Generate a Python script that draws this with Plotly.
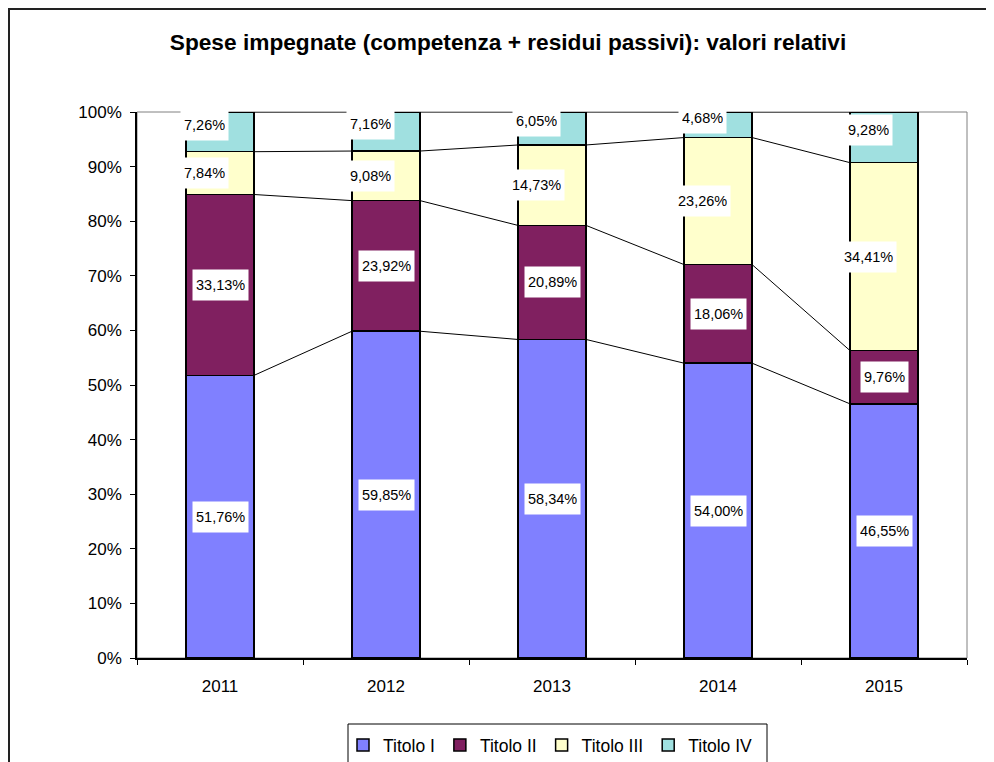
import plotly.graph_objects as go

years = ["2011", "2012", "2013", "2014", "2015"]
series_names = ["Titolo I", "Titolo II", "Titolo III", "Titolo IV"]
titolo_1 = [51.76, 59.85, 58.34, 54.00, 46.55]
titolo_2 = [33.13, 23.92, 20.89, 18.06, 9.76]
titolo_3 = [7.84, 9.08, 14.73, 23.26, 34.41]
titolo_4 = [7.26, 7.16, 6.05, 4.68, 9.28]
y_ticks = [0, 10, 20, 30, 40, 50, 60, 70, 80, 90, 100]

series_values = [titolo_1, titolo_2, titolo_3, titolo_4]
colors = ["#8080FF", "#802060", "#FFFFCC", "#A0E0E0"]
label_xshift = [0, 0, -16, -16]
label_yshift = [0, 0, 0, 7]

# the page has an 8px body margin: figure coordinates = page coordinates - 8
OFF = 8
W, H = 994 - OFF, 762 - OFF
L, R, T, B = 137 - OFF, 967 - OFF, 112 - OFF, 658 - OFF
pw, ph = R - L, B - T


def px(x):
    """page x pixel -> paper fraction"""
    return (x - OFF - L) / pw


def py(y):
    """page y pixel -> paper fraction"""
    return (B - (y - OFF)) / ph


FONT = "Liberation Sans, Arial, sans-serif"
BAR_W = 0.41

fig = go.Figure()
for name, vals, col in zip(series_names, series_values, colors):
    fig.add_trace(go.Bar(
        x=years, y=vals, name=name, width=BAR_W,
        marker=dict(color=col, line=dict(color="black", width=1.5)),
        hoverinfo="skip",
    ))

# series connector lines and labels (on an overlaid numeric x axis)
cum = [0.0] * len(years)
annotations = []
for s, vals in enumerate(series_values):
    lower = cum[:]
    cum = [c + v for c, v in zip(cum, vals)]
    xs, ys = [], []
    for i in range(len(years) - 1):
        xs += [i + BAR_W / 2, i + 1 - BAR_W / 2, None]
        ys += [cum[i], cum[i + 1], None]
    fig.add_trace(go.Scatter(
        x=xs, y=ys, xaxis="x2", mode="lines",
        line=dict(color="black", width=1), showlegend=False, hoverinfo="skip",
    ))
    for i, v in enumerate(vals):
        annotations.append(dict(
            x=i, y=lower[i] + v / 2, xref="x2", yref="y",
            text=f"{v:.2f}".replace(".", ",") + "%",
            showarrow=False, bgcolor="white", borderpad=3, height=24,
            xshift=label_xshift[s], yshift=label_yshift[s],
            font=dict(family=FONT, size=14.5, color="black"),
        ))

shapes = [
    # plot area border (grey)
    dict(type="rect", xref="paper", yref="paper", x0=0, y0=0, x1=1, y1=1,
         line=dict(color="#808080", width=1), layer="below"),
    # outer chart border
    dict(type="rect", xref="paper", yref="paper",
         x0=px(9), y0=py(9), x1=px(1020), y1=py(800),
         line=dict(color="#222222", width=2)),
    # legend box
    dict(type="rect", xref="paper", yref="paper",
         x0=px(348), y0=py(724), x1=px(767), y1=py(800),
         line=dict(color="black", width=1)),
]

fig.update_layout(
    width=W, height=H,
    margin=dict(l=L, r=W - R, t=T, b=H - B),
    paper_bgcolor="white", plot_bgcolor="white",
    barmode="stack",
    font=dict(family=FONT, color="black"),
    title=dict(
        text="<b>Spese impegnate (competenza + residui passivi): valori relativi</b>",
        x=px(508), xref="paper", xanchor="center",
        y=1 - (42 - OFF) / H, yref="container", yanchor="middle",
        font=dict(family=FONT, size=22.7, color="black"),
    ),
    xaxis=dict(
        type="category", range=[-0.5, 4.5], tickson="boundaries",
        ticks="outside", ticklen=5, tickcolor="black",
        showline=True, linecolor="black", linewidth=1.5,
        showgrid=False, zeroline=False,
        tickfont=dict(family=FONT, size=17), ticklabelstandoff=12,
    ),
    xaxis2=dict(overlaying="x", range=[-0.5, 4.5], visible=False),
    yaxis=dict(
        range=[0, 100], tickvals=y_ticks,
        ticktext=[f"{t}%" for t in y_ticks],
        ticks="outside", ticklen=5, tickcolor="black",
        showline=True, linecolor="black", linewidth=1.5,
        showgrid=False, zeroline=False,
        tickfont=dict(family=FONT, size=17), ticklabelstandoff=5,
    ),
    legend=dict(
        orientation="h", x=px(343), xanchor="left",
        yref="container", y=1 - (745 - OFF) / H, yanchor="middle",
        font=dict(family=FONT, size=17.5), bgcolor="rgba(0,0,0,0)",
        traceorder="normal",
    ),
    annotations=annotations,
    shapes=shapes,
    showlegend=True,
)

fig.write_html("out.html")
